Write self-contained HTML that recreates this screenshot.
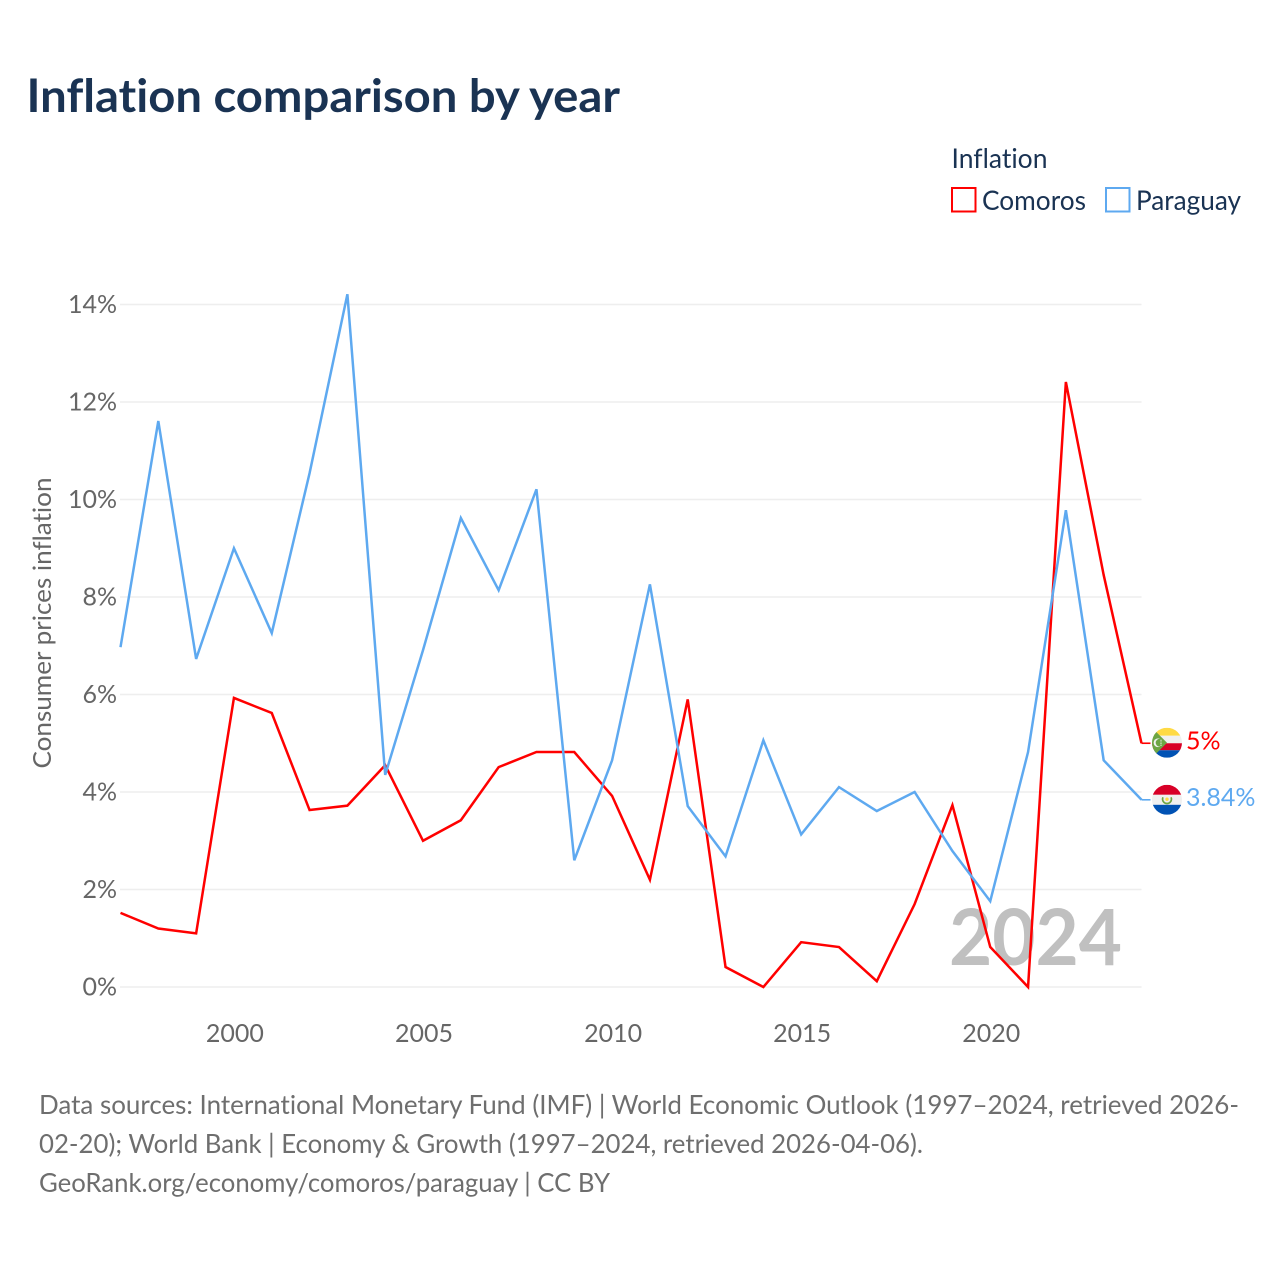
<!DOCTYPE html>
<html lang="en">
<head>
<meta charset="utf-8">
<title>Inflation comparison by year</title>
<style>
html,body{margin:0;padding:0;background:#fff;}
svg{display:block;}
text{font-family:"Lato","Carlito","Liberation Sans",sans-serif;font-variant-ligatures:none;font-feature-settings:"liga" 0;}
</style>
</head>
<body>
<svg id="chart" width="1280" height="1280" viewBox="0 0 1280 1280" xmlns="http://www.w3.org/2000/svg">
  <defs>
    <clipPath id="flag-clip-c"><circle cx="0" cy="0" r="15"/></clipPath>
  </defs>
  <rect x="0" y="0" width="1280" height="1280" fill="#ffffff"/>
  <text x="26.5" y="112" font-size="46" font-weight="700" fill="#1a3353" textLength="593.5" lengthAdjust="spacingAndGlyphs">Inflation comparison by year</text>

  <g>
    <text x="951.5" y="168" font-size="27" fill="#1a3353" textLength="96" lengthAdjust="spacingAndGlyphs">Inflation</text>
    <g>
      <rect x="952" y="188" width="23.5" height="23.5" fill="#ffffff" stroke="#ff0000" stroke-width="2"/>
      <text x="982" y="210" font-size="27" fill="#1a3353" textLength="104" lengthAdjust="spacingAndGlyphs">Comoros</text>
    </g>
    <g>
      <rect x="1106" y="188" width="23.5" height="23.5" fill="#ffffff" stroke="#5ea9f0" stroke-width="2"/>
      <text x="1136" y="210" font-size="27" fill="#1a3353" textLength="105" lengthAdjust="spacingAndGlyphs">Paraguay</text>
    </g>
  </g>

  <g id="grid"></g>
  <g id="y-ticks"></g>
  <g id="x-ticks"></g>
  <text transform="translate(51,623) rotate(-90)" text-anchor="middle" font-size="25.5" fill="#666666" textLength="291" lengthAdjust="spacingAndGlyphs">Consumer prices inflation</text>

  <text x="1122" y="965" text-anchor="end" font-size="78" font-weight="700" fill="#c0c0c0" textLength="173" lengthAdjust="spacingAndGlyphs">2024</text>

  <g id="series"></g>
  <g id="end-labels"></g>

  <g font-size="26.5" fill="#6e6e6e">
    <text x="39" y="1114" textLength="1200" lengthAdjust="spacingAndGlyphs">Data sources: International Monetary Fund (IMF) | World Economic Outlook (1997–2024, retrieved 2026-</text>
    <text x="39" y="1153" textLength="884" lengthAdjust="spacingAndGlyphs">02-20); World Bank | Economy &amp; Growth (1997–2024, retrieved 2026-04-06).</text>
    <text x="39" y="1192" textLength="571" lengthAdjust="spacingAndGlyphs">GeoRank.org/economy/comoros/paraguay | CC BY</text>
  </g>
</svg>
<script>
const years = [1997,1998,1999,2000,2001,2002,2003,2004,2005,2006,2007,2008,2009,2010,2011,2012,2013,2014,2015,2016,2017,2018,2019,2020,2021,2022,2023,2024];
const comorosValues = [1.52,1.2,1.1,5.93,5.62,3.63,3.72,4.55,3.0,3.42,4.51,4.82,4.82,3.92,2.2,5.9,0.41,0.0,0.92,0.82,0.12,1.7,3.73,0.82,0.0,12.41,8.45,5.0];
const paraguayValues = [6.97,11.61,6.73,9.0,7.26,10.54,14.21,4.35,6.91,9.62,8.14,10.21,2.6,4.65,8.26,3.71,2.68,5.06,3.13,4.1,3.61,4.0,2.79,1.76,4.82,9.78,4.65,3.84];
const yTickValues = [0,2,4,6,8,10,12,14];
const xTickValues = [2000,2005,2010,2015,2020];
const seriesNames = ['comoros','paraguay'];
const endLabels = ['5%','3.84%'];

const NS = 'http://www.w3.org/2000/svg';
const plotLeft = 120.5, plotRight = 1141.5, plotZero = 987, pxPerPercent = 48.75;
function xScale(year){
  return plotLeft + (year - years[0]) * (plotRight - plotLeft) / (years[years.length-1] - years[0]);
}
function yScale(v){
  return plotZero - v * pxPerPercent;
}
function make(tag, attrs, parent, text){
  const el = document.createElementNS(NS, tag);
  for (const k in attrs) el.setAttribute(k, attrs[k]);
  if (text !== undefined) el.textContent = text;
  parent.appendChild(el);
  return el;
}
const grid = document.getElementById('grid');
const yTicksG = document.getElementById('y-ticks');
const xTicksG = document.getElementById('x-ticks');
const seriesG = document.getElementById('series');
const endG = document.getElementById('end-labels');

yTickValues.forEach(function(t){
  const line = make('line', {x1:plotLeft-0.5, x2:plotRight, y1:yScale(t), y2:yScale(t), stroke:'#eeeeee', 'stroke-width':1.5}, grid);
  
  
  const label = make('text', {x:117, y:yScale(t)+8.5, 'text-anchor':'end', 'font-size':25, fill:'#666666'}, yTicksG, t + '%');
  
  
});
xTickValues.forEach(function(t){
  const label = make('text', {x:xScale(t)+1, y:1042, 'text-anchor':'middle', 'font-size':25, fill:'#666666'}, xTicksG, String(t));
  
  
});

function linePoints(values){
  return values.map(function(v,i){ return xScale(years[i]).toFixed(2) + ',' + yScale(v).toFixed(2); }).join(' ');
}
const comorosLine = make('polyline', {points:linePoints(comorosValues), fill:'none', stroke:'#ff0000', 'stroke-width':2.5, 'stroke-linejoin':'miter'}, seriesG);


const paraguayLine = make('polyline', {points:linePoints(paraguayValues), fill:'none', stroke:'#5ea9f0', 'stroke-width':2.5, 'stroke-linejoin':'miter'}, seriesG);



function drawFlag(kind, cx, cy){
  const g = make('g', {transform:'translate(' + cx + ',' + cy + ')', 'clip-path':'url(#flag-clip-c)'}, endG);
  
  
  if (kind === 'comoros'){
    make('rect', {x:-15, y:-15, width:30, height:8, fill:'#ffda44'}, g);
    make('rect', {x:-15, y:-7, width:30, height:7.5, fill:'#f0f0f0'}, g);
    make('rect', {x:-15, y:0.5, width:30, height:7, fill:'#d80027'}, g);
    make('rect', {x:-15, y:7.5, width:30, height:7.5, fill:'#0052b4'}, g);
    make('polygon', {points:'-15,-15 0,0 -15,15', fill:'#6da544'}, g);
    make('circle', {cx:-9, cy:0, r:4.4, fill:'#f0f0f0'}, g);
    make('circle', {cx:-7.4, cy:0, r:3.9, fill:'#6da544'}, g);
    make('circle', {cx:-6, cy:-2.5, r:0.6, fill:'#f0f0f0'}, g);
    make('circle', {cx:-6, cy:-0.8, r:0.6, fill:'#f0f0f0'}, g);
    make('circle', {cx:-6, cy:0.8, r:0.6, fill:'#f0f0f0'}, g);
    make('circle', {cx:-6, cy:2.5, r:0.6, fill:'#f0f0f0'}, g);
  } else {
    make('rect', {x:-15, y:-15, width:30, height:10, fill:'#d80027'}, g);
    make('rect', {x:-15, y:-5, width:30, height:10, fill:'#f0f0f0'}, g);
    make('rect', {x:-15, y:5, width:30, height:10, fill:'#0052b4'}, g);
    make('path', {d:'M -4 -2.5 A 4.4 4.4 0 1 0 4 -2.5', fill:'none', stroke:'#6da544', 'stroke-width':1.7}, g);
    make('circle', {cx:0, cy:-0.6, r:1.7, fill:'#ffda44'}, g);
  }
}

const comorosEndY = yScale(comorosValues[comorosValues.length-1]);
const paraguayEndY = yScale(paraguayValues[paraguayValues.length-1]);

const comorosLeader = make('line', {x1:plotRight, x2:plotRight+9, y1:comorosEndY, y2:comorosEndY, stroke:'#ff0000', 'stroke-width':1.6}, endG);


const paraguayLeader = make('line', {x1:plotRight, x2:plotRight+9, y1:paraguayEndY, y2:paraguayEndY, stroke:'#5ea9f0', 'stroke-width':1.6}, endG);



drawFlag(seriesNames[0], 1167, comorosEndY - 0.5);
drawFlag(seriesNames[1], 1167, paraguayEndY);

const comorosEnd = make('text', {x:1186, y:comorosEndY+6, 'font-size':25, fill:'#ff0000'}, endG, endLabels[0]);


const paraguayEnd = make('text', {x:1186, y:paraguayEndY+6, 'font-size':25, fill:'#5ea9f0'}, endG, endLabels[1]);


</script>
</body>
</html>
